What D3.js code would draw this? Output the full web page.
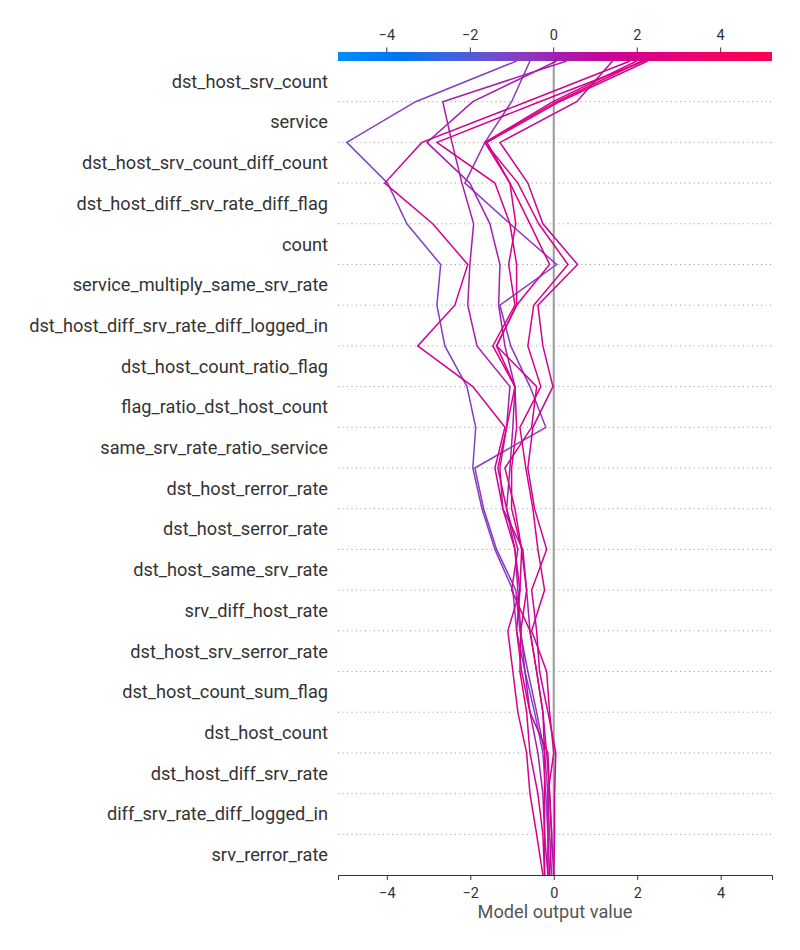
<!DOCTYPE html>
<html><head><meta charset="utf-8">
<script src="https://cdn.jsdelivr.net/npm/d3@7"></script>
<style>body{margin:0;background:#fff;}svg{font-family:Roboto,"Noto Sans",sans-serif;}</style>
</head><body><svg id="c" width="800" height="950"></svg>
<script>
// Features, top to bottom
const features = [
  "dst_host_srv_count","service","dst_host_srv_count_diff_count","dst_host_diff_srv_rate_diff_flag",
  "count","service_multiply_same_srv_rate","dst_host_diff_srv_rate_diff_logged_in","dst_host_count_ratio_flag",
  "flag_ratio_dst_host_count","same_srv_rate_ratio_service","dst_host_rerror_rate","dst_host_serror_rate",
  "dst_host_same_srv_rate","srv_diff_host_rate","dst_host_srv_serror_rate","dst_host_count_sum_flag",
  "dst_host_count","dst_host_diff_srv_rate","diff_srv_rate_diff_logged_in","srv_rerror_rate"
];
const xTicks = [-4,-2,0,2,4];
const baseValue = 0;
// Cumulative model output per observation, from the bottom (index 0) to the final output (index 20)
const obs1 = [-0.10,-0.14,-0.19,-0.26,-0.46,-0.69,-0.89,-0.98,-1.41,-1.72,-1.94,-1.87,-2.08,-2.61,-2.80,-2.71,-3.52,-3.98,-4.96,-3.31,-0.89];
const obs2 = [-0.05,-0.10,-0.14,-0.22,-0.41,-0.62,-0.81,-0.91,-1.37,-1.68,-1.89,-0.19,-0.57,-1.03,-1.29,0.07,-1.05,-2.13,-1.65,-1.01,-0.57];
const obs3 = [-0.14,-0.22,-0.26,-0.38,-0.57,-0.69,-0.79,-0.86,-0.93,-1.13,-1.05,-0.98,-0.93,-1.17,-1.32,-1.29,-1.53,-2.01,-3.04,-1.94,0.07];
const obs4 = [0.00,-0.05,-0.10,-0.17,-0.26,-0.41,-0.57,-0.65,-0.74,-1.22,-1.29,-1.13,-1.05,-1.84,-2.06,-2.01,-1.92,-2.20,-2.44,-2.66,0.31];
const obs5 = [-0.26,-0.41,-0.57,-0.65,-0.86,-0.98,-1.10,-0.81,-0.93,-1.22,-1.41,-1.17,-1.94,-3.26,-2.37,-2.06,-2.90,-4.05,-3.16,-0.65,1.83];
const obs6 = [-0.22,-0.26,-0.38,-0.57,-0.65,-0.81,-0.79,-0.65,-0.77,-1.01,-1.01,-0.89,-0.93,-1.37,-0.89,-0.89,-1.05,-1.41,-2.80,-0.34,2.18];
const obs7 = [0.00,0.02,0.02,0.05,-0.14,-0.34,-0.41,-0.53,-0.17,-0.46,-0.62,-0.50,-0.02,-0.26,-0.38,0.57,-0.26,-0.62,-1.29,0.55,1.41];
const obs8 = [-0.14,-0.14,-0.14,0.00,-0.10,-0.17,-0.53,-0.22,-0.38,-0.50,-0.67,-0.81,-0.31,-0.62,-0.48,0.34,-0.36,-0.86,-1.65,-0.02,1.99];
const obs9 = [-0.10,-0.05,-0.10,-0.14,-0.57,-0.77,-0.89,-0.81,-0.77,-0.93,-1.17,-0.53,-0.41,-1.37,-0.89,-0.10,-0.57,-1.05,-1.65,0.07,2.11];
const obs10 = [-0.22,-0.22,-0.22,-0.22,-0.26,-0.41,-0.57,-1.01,-0.86,-1.13,-1.34,-1.13,-0.93,-1.46,-0.93,-1.08,-0.91,-1.05,-1.60,0.14,2.25];
const observations = [obs1,obs2,obs3,obs4,obs5,obs6,obs7,obs8,obs9,obs10];

const svg = d3.select("#c");
const plotLeft = 338, plotRight = 772, plotTop = 61, plotBottom = 875;
const x = d3.scaleLinear().domain([-5.17, 5.23]).range([plotLeft, plotRight]);
const y = d3.scaleLinear().domain([0, features.length]).range([plotBottom, plotTop]);

const stops = ["#008bfb","#0071ea","#4b5cdc","#7f42c8","#a01fb3","#bd08a0","#d8008a","#f00068","#ff0052"];
const stopT = [0,0.18,0.3,0.4,0.5,0.58,0.7,0.85,1];
const tScale = d3.scaleLinear().domain(x.domain()).range([0,1]).clamp(true);
const cmap = d3.scaleLinear().domain(stopT).range(stops).interpolate(d3.interpolateLab);
const color = v => cmap(tScale(v));

// colorbar gradient
const defs = svg.append("defs");
const grad = defs.append("linearGradient").attr("id","cb").attr("x1","0%").attr("x2","100%");
d3.range(0,1.0001,0.05).forEach(t => grad.append("stop").attr("offset", (t*100)+"%").attr("stop-color", cmap(t)));
svg.append("rect").attr("x", plotLeft).attr("y", 52).attr("width", plotRight-plotLeft).attr("height", 9).attr("fill","url(#cb)");

// top axis
const topAxis = svg.append("g");
xTicks.forEach(t => {
  topAxis.append("line").attr("x1", x(t)).attr("x2", x(t)).attr("y1", 47.5).attr("y2", 52).attr("stroke","#333").attr("stroke-width",1);
  topAxis.append("text").attr("x", x(t)).attr("y", 40).attr("text-anchor","middle").attr("font-size",14.5).attr("fill","#333").text(String(t).replace("-","\u2212"));
});

// dotted grid lines at each feature boundary
d3.range(1, features.length).forEach(i => {
  svg.append("line").attr("x1", plotLeft).attr("x2", plotRight).attr("y1", y(i)).attr("y2", y(i))
    .attr("stroke","#999").attr("stroke-width",1).attr("stroke-dasharray","1,3.5");
});

// base value line
svg.append("line").attr("x1", x(baseValue)).attr("x2", x(baseValue)).attr("y1", plotTop).attr("y2", plotBottom)
  .attr("stroke","#999").attr("stroke-width",2);

// feature labels
features.forEach((f, i) => {
  const level = features.length - i - 0.5;
  svg.append("text").attr("x", 328).attr("y", y(level)).attr("dy","0.35em")
    .attr("text-anchor","end").attr("font-size",18.2).attr("fill","#333").text(f);
});

// decision lines
const line = d3.line().x(d => x(d)).y((d, i) => y(i));
observations.forEach(o => {
  svg.append("path").attr("d", line(o)).attr("fill","none")
    .attr("stroke", color(o[o.length-1])).attr("stroke-width",1.5).attr("stroke-linejoin","miter");
});

// bottom axis
const bx = svg.append("g").attr("transform",`translate(0,${plotBottom})`)
  .call(d3.axisBottom(x).tickValues(xTicks).tickSize(5).tickFormat(d => String(d).replace("-","\u2212")));
bx.select(".domain").attr("stroke","#333");
bx.selectAll(".tick line").attr("stroke","#333");
bx.selectAll("text").attr("font-size",14.5).attr("fill","#333").attr("font-family","Roboto,'Noto Sans',sans-serif").attr("dy","1.0em");

svg.append("text").attr("x", (plotLeft+plotRight)/2).attr("y", 918).attr("text-anchor","middle")
  .attr("font-size",18.2).attr("fill","#555").text("Model output value");
</script></body></html>
